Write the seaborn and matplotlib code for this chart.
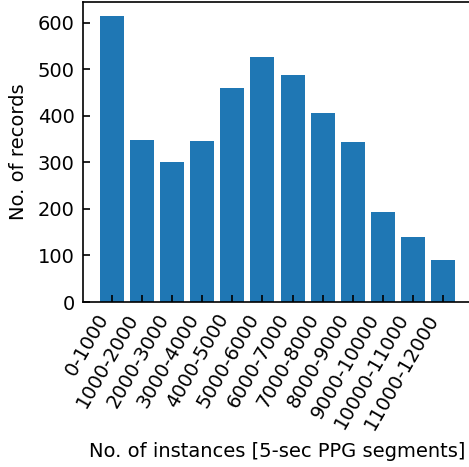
import matplotlib
matplotlib.use("Agg")
import matplotlib.pyplot as plt
import seaborn as sns
import pandas as pd

categories = ["0-1000", "1000-2000", "2000-3000", "3000-4000", "4000-5000", "5000-6000",
              "6000-7000", "7000-8000", "8000-9000", "9000-10000", "10000-11000", "11000-12000"]
records = [615, 348, 300, 347, 461, 527, 489, 407, 343, 194, 139, 90]

df = pd.DataFrame({"range": categories, "records": records})

plt.rcParams["font.family"] = ["DejaVu Sans"]
fs = 14

fig = plt.figure(figsize=(4.69, 4.67), dpi=100)
ax = fig.add_axes([83 / 469, 165 / 467, 389 / 469, 300 / 467])
sns.barplot(data=df, x="range", y="records", color="#1f77b4", saturation=1,
            width=0.8, linewidth=0, ax=ax)
ax.set_xlim(-0.97, 11.97)
ax.set_ylim(0, 645)
ax.set_yticks([0, 100, 200, 300, 400, 500, 600])
ax.tick_params(direction="in", length=5, width=1.2, labelsize=fs, colors="black", pad=6)
ax.set_xticks(range(len(categories)))
ax.set_xticklabels(categories, rotation=60, ha="right")
for s in ax.spines.values():
    s.set_linewidth(1.2)
ax.set_xlabel("No. of instances [5-sec PPG segments]", fontsize=fs, labelpad=7)
ax.set_ylabel("No. of records", fontsize=fs, labelpad=7)
fig.savefig("out.png", dpi=100)
